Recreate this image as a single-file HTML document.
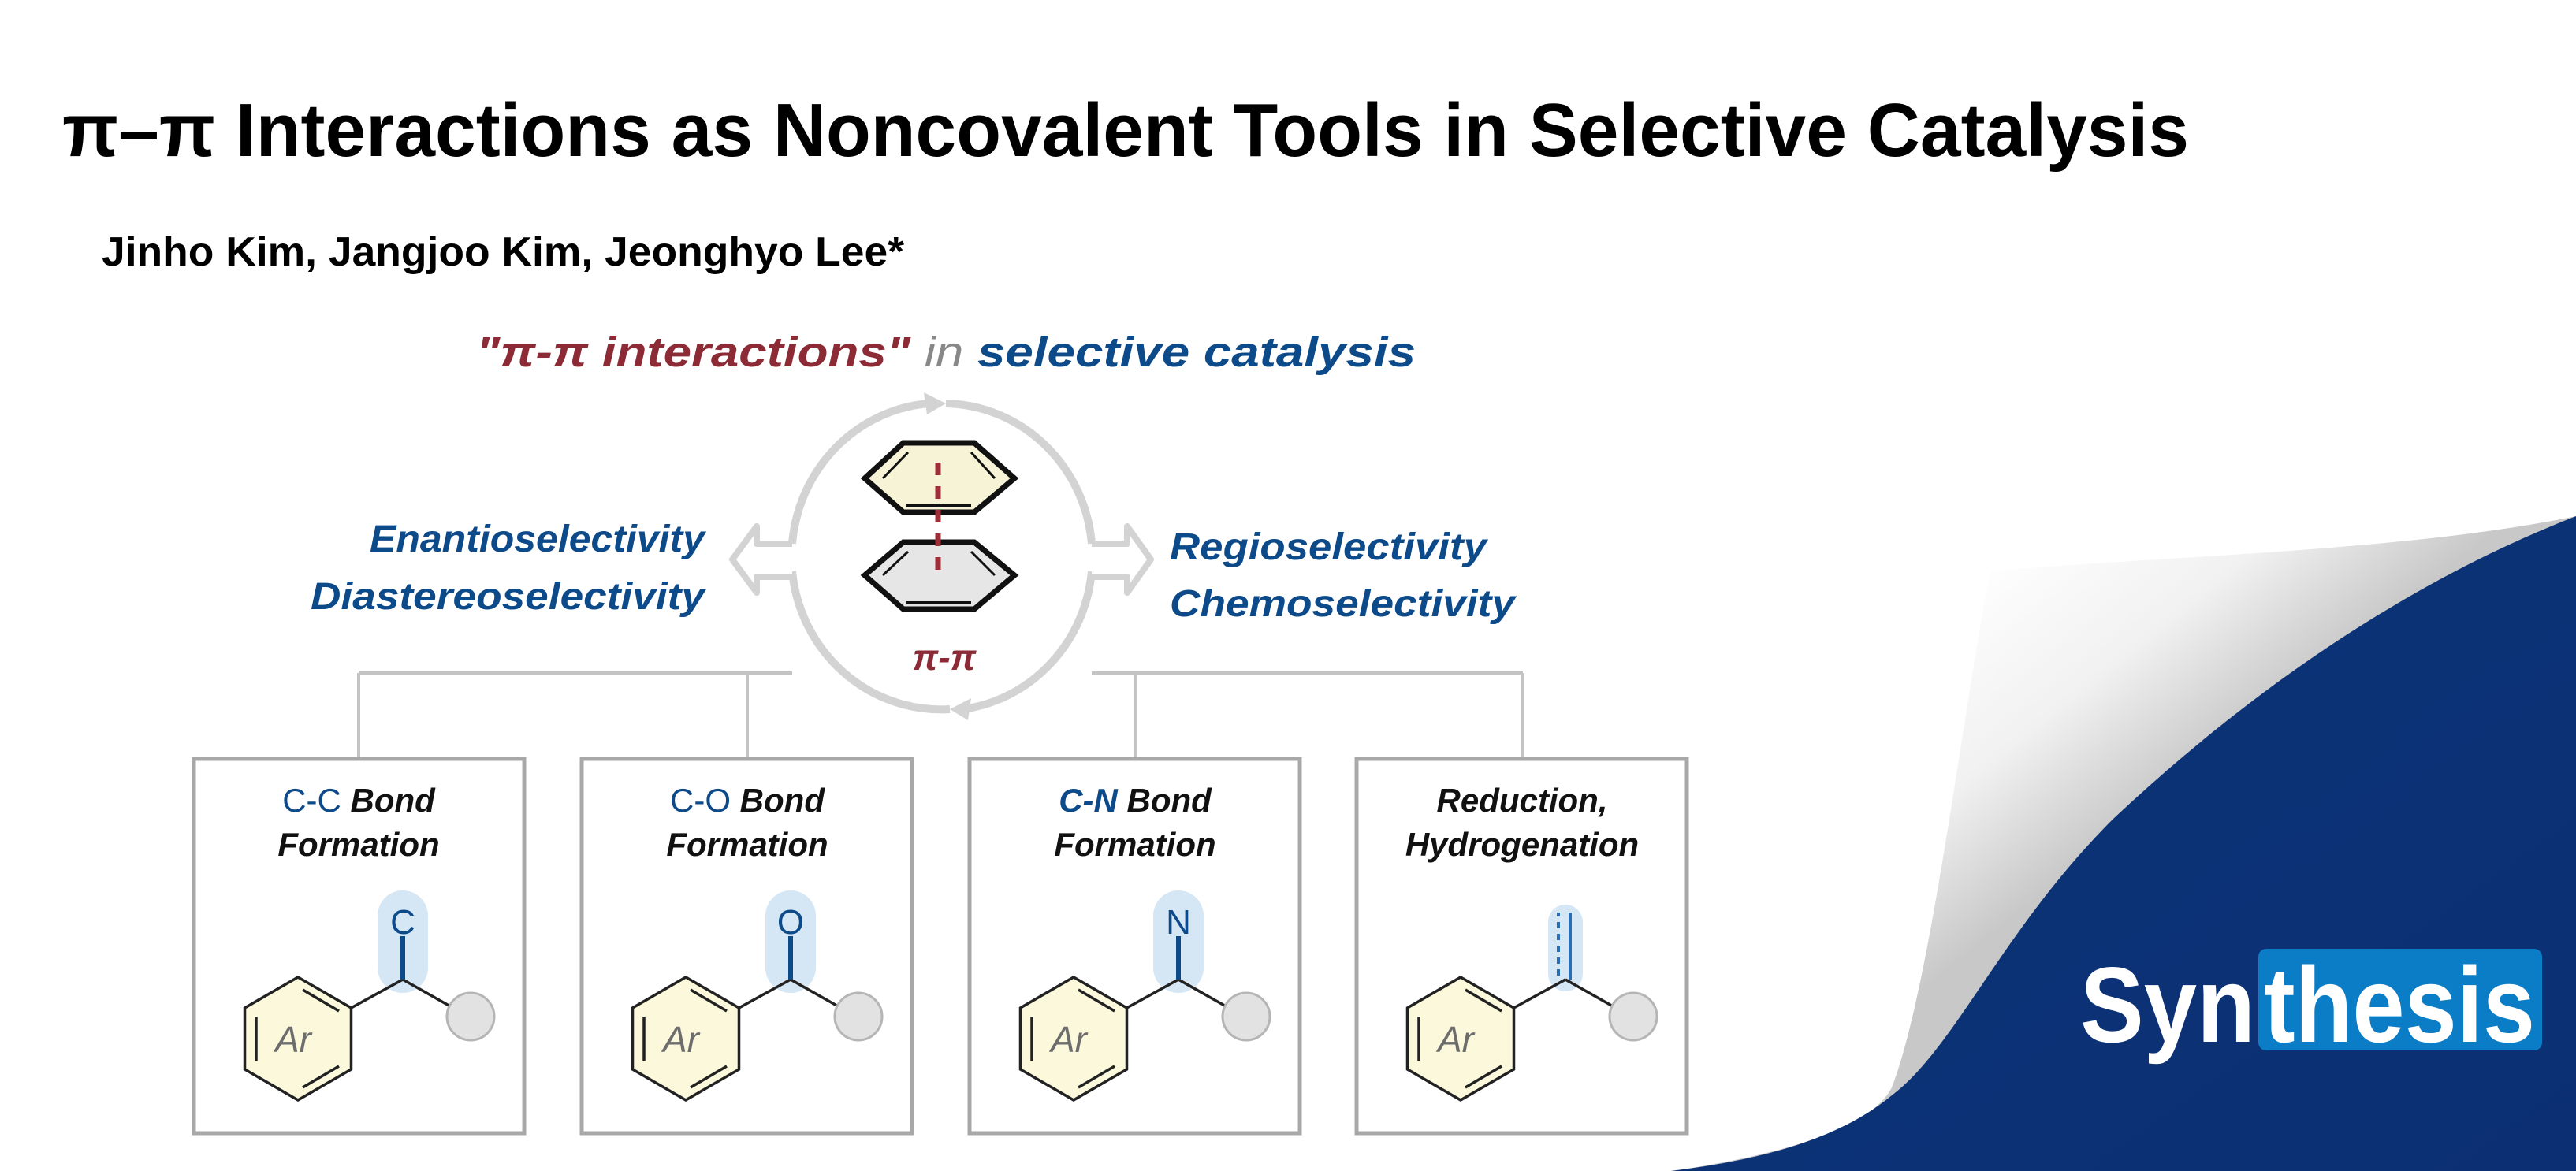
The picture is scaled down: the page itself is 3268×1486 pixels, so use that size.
<!DOCTYPE html>
<html><head><meta charset="utf-8"><style>html,body{margin:0;padding:0;background:#fff}svg{display:block}</style></head>
<body>
<svg width="3268" height="1486" viewBox="0 0 3268 1486" xmlns="http://www.w3.org/2000/svg" font-family="'Liberation Sans', sans-serif">
<defs>
<linearGradient id="curl" gradientUnits="userSpaceOnUse" x1="2520" y1="700" x2="2760" y2="1000">
<stop offset="0" stop-color="#ffffff"/><stop offset="0.55" stop-color="#f1f1f1"/><stop offset="1" stop-color="#c8c8c8"/>
</linearGradient>
<linearGradient id="bl" x1="0" y1="0" x2="1" y2="1">
<stop offset="0" stop-color="#0a2a66"/><stop offset="0.3" stop-color="#0c3378"/><stop offset="1" stop-color="#0b2f72"/>
</linearGradient>
<g id="ring">
<polygon points="0,-78 67.5,-39 67.5,39 0,78 -67.5,39 -67.5,-39" fill="#fbf8dc" stroke="#222" stroke-width="3.5"/>
<line x1="-53" y1="-28" x2="-53" y2="28" stroke="#222" stroke-width="3.5"/>
<line x1="6" y1="-62" x2="52" y2="-35" stroke="#222" stroke-width="3.5"/>
<line x1="6" y1="62" x2="52" y2="35" stroke="#222" stroke-width="3.5"/>
<text x="-6" y="17" font-size="46" font-style="italic" fill="#6d6d6d" text-anchor="middle">Ar</text>
</g>
<g id="tail">
<line x1="67.5" y1="-39" x2="133" y2="-75" stroke="#222" stroke-width="3.5"/>
<line x1="133" y1="-75" x2="195" y2="-40" stroke="#222" stroke-width="3.5"/>
<circle cx="219" cy="-28" r="30" fill="#e2e2e2" stroke="#b5b5b5" stroke-width="3"/>
</g>
</defs>

<!-- page curl -->
<path d="M2525 725 C2750 705 3050 700 3268 655 L3268 1486 L2120 1486 C2300 1460 2380 1420 2400 1380 C2450 1250 2490 900 2525 725 Z" fill="url(#curl)"/>
<path d="M3268 655 C3050 740 2850 880 2680 1040 C2540 1180 2480 1330 2400 1390 C2340 1440 2250 1470 2120 1486 L3268 1486 Z" fill="url(#bl)"/>

<!-- title -->
<text x="79" y="198" font-size="96" font-weight="bold" fill="#000" textLength="2698" lengthAdjust="spacingAndGlyphs">π–π Interactions as Noncovalent Tools in Selective Catalysis</text>
<text x="129" y="337" font-size="52" font-weight="bold" fill="#000" textLength="1018" lengthAdjust="spacingAndGlyphs">Jinho Kim, Jangjoo Kim, Jeonghyo Lee*</text>

<!-- heading -->
<text x="604" y="465" font-size="54" font-style="italic" font-weight="bold" textLength="1192" lengthAdjust="spacingAndGlyphs"><tspan fill="#8c2b36">"π-π interactions"</tspan><tspan fill="#888" font-weight="normal"> in </tspan><tspan fill="#0d4a8a">selective catalysis</tspan></text>

<!-- center cycle -->
<path d="M1178 512 A190 195 0 0 0 1005 690" fill="none" stroke="#d3d3d3" stroke-width="10"/>
<path d="M1005 725 A190 195 0 0 0 1205 900" fill="none" stroke="#d3d3d3" stroke-width="10"/>
<path d="M1222 900 A190 195 0 0 0 1385 725" fill="none" stroke="#d3d3d3" stroke-width="10"/>
<path d="M1385 690 A190 195 0 0 0 1200 512" fill="none" stroke="#d3d3d3" stroke-width="10"/>
<polygon points="1200,512 1172,498 1176,526" fill="#d3d3d3"/>
<polygon points="1205,900 1232,886 1228,914" fill="#d3d3d3"/>
<!-- hollow arrows -->
<path d="M1005 690 L960 690 L960 668 L929 710 L960 752 L960 732 L1005 732" fill="#fff" stroke="#d3d3d3" stroke-width="8" stroke-linejoin="round"/>
<path d="M1385 690 L1430 690 L1430 668 L1460 710 L1430 752 L1430 732 L1385 732" fill="#fff" stroke="#d3d3d3" stroke-width="8" stroke-linejoin="round"/>
<!-- hexagons -->
<polygon points="1146,562 1236,562 1287,607 1236,650 1146,650 1097,607" fill="#f7f3d6" stroke="#111" stroke-width="7"/>
<line x1="1150" y1="642" x2="1232" y2="642" stroke="#111" stroke-width="4"/>
<line x1="1120" y1="607" x2="1152" y2="574" stroke="#111" stroke-width="3"/>
<line x1="1262" y1="607" x2="1232" y2="574" stroke="#111" stroke-width="3"/>
<polygon points="1146,688 1236,688 1287,730 1236,773 1146,773 1097,730" fill="#e6e6e6" stroke="#111" stroke-width="7"/>
<line x1="1150" y1="765" x2="1232" y2="765" stroke="#111" stroke-width="4"/>
<line x1="1120" y1="730" x2="1152" y2="700" stroke="#111" stroke-width="3"/>
<line x1="1262" y1="730" x2="1232" y2="700" stroke="#111" stroke-width="3"/>
<line x1="1190" y1="587" x2="1190" y2="735" stroke="#9c2f3a" stroke-width="7" stroke-dasharray="16,14"/>
<text x="1198" y="850" font-size="46" font-style="italic" font-weight="bold" fill="#8c2b36" text-anchor="middle">π-π</text>

<!-- side labels -->
<g font-size="48" font-style="italic" font-weight="bold" fill="#0d4a8a">
<text x="894" y="700" text-anchor="end" textLength="425" lengthAdjust="spacingAndGlyphs">Enantioselectivity</text>
<text x="894" y="773" text-anchor="end" textLength="500" lengthAdjust="spacingAndGlyphs">Diastereoselectivity</text>
<text x="1484" y="710" textLength="402" lengthAdjust="spacingAndGlyphs">Regioselectivity</text>
<text x="1484" y="782" textLength="438" lengthAdjust="spacingAndGlyphs">Chemoselectivity</text>
</g>

<!-- tree -->
<g stroke="#c4c4c4" stroke-width="4" fill="none">
<line x1="455" y1="854" x2="1005" y2="854"/>
<line x1="1385" y1="854" x2="1932" y2="854"/>
<line x1="455" y1="854" x2="455" y2="963"/>
<line x1="948" y1="854" x2="948" y2="963"/>
<line x1="1440" y1="854" x2="1440" y2="963"/>
<line x1="1932" y1="854" x2="1932" y2="963"/>
</g>
<g fill="#fff" stroke="#a8a8a8" stroke-width="5">
<rect x="246" y="963" width="419" height="475"/>
<rect x="738" y="963" width="419" height="475"/>
<rect x="1230" y="963" width="419" height="475"/>
<rect x="1721" y="963" width="419" height="475"/>
</g>

<!-- box titles -->
<g font-size="42" font-style="italic" font-weight="bold" fill="#111" text-anchor="middle">
<text x="455" y="1030"><tspan fill="#0d4a8a" font-style="normal" font-weight="normal">C-C</tspan> Bond</text>
<text x="455" y="1086">Formation</text>
<text x="948" y="1030"><tspan fill="#0d4a8a" font-style="normal" font-weight="normal">C-O</tspan> Bond</text>
<text x="948" y="1086">Formation</text>
<text x="1440" y="1030"><tspan fill="#0d4a8a">C-N</tspan> Bond</text>
<text x="1440" y="1086">Formation</text>
<text x="1931" y="1030">Reduction,</text>
<text x="1931" y="1086">Hydrogenation</text>
</g>

<!-- molecules -->
<g transform="translate(378,1318)">
<rect x="101" y="-188" width="64" height="130" rx="32" fill="#d5e6f5"/>
<use href="#tail"/><use href="#ring"/>
<line x1="133" y1="-75" x2="133" y2="-130" stroke="#0d4a8a" stroke-width="6"/>
<text x="133" y="-133" font-size="44" fill="#0d4a8a" text-anchor="middle">C</text>
</g>
<g transform="translate(870,1318)">
<rect x="101" y="-188" width="64" height="130" rx="32" fill="#d5e6f5"/>
<use href="#tail"/><use href="#ring"/>
<line x1="133" y1="-75" x2="133" y2="-130" stroke="#0d4a8a" stroke-width="6"/>
<text x="133" y="-133" font-size="44" fill="#0d4a8a" text-anchor="middle">O</text>
</g>
<g transform="translate(1362,1318)">
<rect x="101" y="-188" width="64" height="130" rx="32" fill="#d5e6f5"/>
<use href="#tail"/><use href="#ring"/>
<line x1="133" y1="-75" x2="133" y2="-130" stroke="#0d4a8a" stroke-width="6"/>
<text x="133" y="-133" font-size="44" fill="#0d4a8a" text-anchor="middle">N</text>
</g>
<g transform="translate(1853,1318)">
<rect x="111" y="-170" width="44" height="110" rx="22" fill="#d5e6f5"/>
<use href="#tail"/><use href="#ring"/>
<line x1="139" y1="-75" x2="139" y2="-160" stroke="#2a6db0" stroke-width="4"/>
<line x1="124" y1="-80" x2="124" y2="-160" stroke="#2a6db0" stroke-width="4" stroke-dasharray="8,7"/>
</g>

<!-- logo -->
<rect x="2865" y="1204" width="360" height="129" rx="10" fill="#0b7cc6"/>
<text x="2639" y="1322" font-size="136" font-weight="bold" fill="#fff" textLength="222" lengthAdjust="spacingAndGlyphs">Syn</text>
<text x="2872" y="1322" font-size="136" font-weight="bold" fill="#fff" textLength="344" lengthAdjust="spacingAndGlyphs">thesis</text>
</svg>
</body></html>
